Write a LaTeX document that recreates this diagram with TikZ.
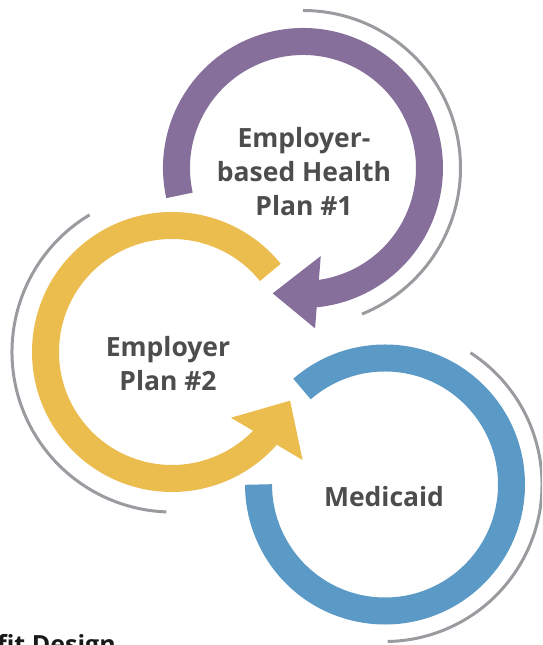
\documentclass[tikz,border=0pt]{standalone}
\usepackage{fontspec}
\setmainfont{Open Sans}
\usetikzlibrary{calc}

\definecolor{planpurple}{RGB}{134,111,154}
\definecolor{planyellow}{RGB}{235,189,78}
\definecolor{medblue}{RGB}{91,154,198}
\definecolor{halogray}{RGB}{153,155,158}
\definecolor{labelgray}{RGB}{77,77,79}

\begin{document}
\begin{tikzpicture}[x=1pt,y=1pt,
        ring/.style={line width=27pt},
        halo/.style={draw=halogray,line width=3pt},
        label node/.style={font=\bfseries\fontsize{26.5}{34}\selectfont,
          text=labelgray,align=center,inner sep=0pt}]

        \useasboundingbox (0,0) rectangle (542,645);
        \clip (0,0) rectangle (542,645);

        \coordinate (c1) at (303,477);
        \coordinate (c2) at (172,293);
        \coordinate (c3) at (385,160.5);

        \draw[halo] (c1) ++(90:157.5) arc[start angle=90,end angle=-68,radius=157.5];
        \draw[halo] (c2) ++(121:160) arc[start angle=121,end angle=268,radius=160];
        \draw[halo] (c3) ++(57:157) arc[start angle=57,end angle=-89,radius=157];

        \draw[ring,medblue] (c3) ++(131:126.5) arc[start angle=131,end angle=-180,radius=126.5];

        \draw[ring,planyellow] (c2) ++(39:126.5) arc[start angle=39,end angle=318.5,radius=126.5];
        \fill[planyellow] ($(c2)+(-48.1:88.3)$) -- ($(c2)+(-22.4:127.7)$)
          -- ($(c2)+(-39.6:169.5)$) -- cycle;

        \draw[ring,planpurple] (c1) ++(192.5:126.5) arc[start angle=192.5,end angle=-84.5,radius=126.5];
        \fill[planpurple] ($(c1)+(-78.6:89.8)$) -- ($(c1)+(-103.6:129)$)
          -- ($(c1)+(-85.7:160.8)$) -- cycle;

        \node[label node] (plan1) at ($(c1)+(1,-3.5)$) {Employer-\\based Health\\Plan \#1};
        \node[label node] (plan2) at ($(c2)+(-4,-12)$) {Employer\\Plan \#2};
        \node[label node] (medicaid) at ($(c3)+(-1,-12)$) {Medicaid};

        \node[font=\bfseries\fontsize{25}{30}\selectfont,text=black!90,
          anchor=base west,inner sep=0pt] (design) at (-3,-9) {fit Design};
    \end{tikzpicture}
\end{document}
